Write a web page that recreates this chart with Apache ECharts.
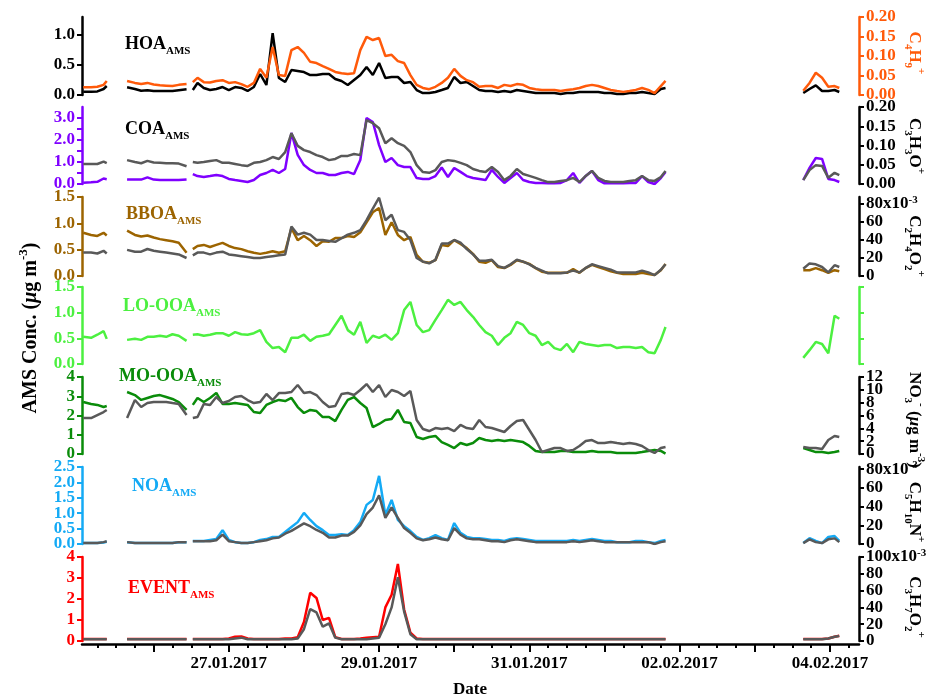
<!DOCTYPE html>
<html>
<head>
<meta charset="utf-8">
<script src="https://cdn.jsdelivr.net/npm/echarts@6/dist/echarts.min.js"></script>
<style>
  html, body { margin: 0; padding: 0; background: #fff; }
  #chart { width: 936px; height: 700px; }
</style>
</head>
<body>
<div id="chart"></div>
<script>
// ---- Time base: hours since 25.01.2017 00:00 (null rows break the line at data gaps) ----
const hours = [
  1.5, 4, 6, 8, 9,
  12,
  15.5, 18, 20, 22, 24, 26, 28, 30, 32, 34.5,
  35.5,
  36.5, 38, 40, 42, 44, 46, 48, 50, 52, 54,
  56, 58, 60, 62, 64, 66, 68, 70, 72, 74,
  76, 78, 80, 82, 84, 86, 88, 90, 92, 94,
  96, 98, 100, 102, 104, 106, 108, 110, 112, 114,
  116, 118, 120, 122, 124, 126, 128, 130, 132, 134,
  136, 138, 140, 142, 144, 146, 148, 150, 152, 154,
  156, 158, 160, 162, 164, 166, 168, 170, 172, 174,
  176, 178, 180, 182, 184, 186, 187.5,
  210,
  231.5, 233.5, 235.5, 237.5, 239.5, 241.5, 243
];

// ---- HOA panel ----
const hoaAms = [
  0.055, 0.055, 0.06, 0.10, 0.15,
  null,
  0.13, 0.10, 0.07, 0.08, 0.065, 0.065, 0.065, 0.065, 0.08, 0.095,
  null,
  0.083, 0.20, 0.117, 0.083, 0.10, 0.133, 0.083, 0.133, 0.117, 0.067,
  0.133, 0.35, 0.167, 1.03, 0.283, 0.217, 0.417, 0.40, 0.383, 0.333,
  0.333, 0.35, 0.35, 0.267, 0.233, 0.167, 0.25, 0.333, 0.467, 0.333,
  0.533, 0.283, 0.30, 0.30, 0.20, 0.217, 0.083, 0.033, 0.033, 0.05,
  0.083, 0.117, 0.30, 0.20, 0.217, 0.15, 0.083, 0.067, 0.067, 0.05,
  0.067, 0.05, 0.083, 0.067, 0.05, 0.033, 0.033, 0.033, 0.033, 0.017,
  0.033, 0.033, 0.05, 0.05, 0.05, 0.05, 0.033, 0.033, 0.017, 0.017,
  0.033, 0.033, 0.05, 0.033, 0.017, 0.10, 0.117,
  null,
  0.033, 0.10, 0.16, 0.067, 0.067, 0.083, 0.05
];
const c4h9 = [
  0.020, 0.020, 0.021, 0.026, 0.036,
  null,
  0.036, 0.031, 0.028, 0.031, 0.027, 0.025, 0.024, 0.023, 0.026, 0.028,
  null,
  0.033, 0.044, 0.033, 0.032, 0.036, 0.038, 0.031, 0.033, 0.028, 0.021,
  0.031, 0.067, 0.044, 0.123, 0.051, 0.049, 0.115, 0.123, 0.108, 0.085,
  0.082, 0.074, 0.067, 0.059, 0.056, 0.054, 0.056, 0.115, 0.149, 0.141,
  0.146, 0.100, 0.103, 0.087, 0.082, 0.051, 0.026, 0.018, 0.015, 0.021,
  0.031, 0.044, 0.067, 0.049, 0.038, 0.033, 0.021, 0.023, 0.023, 0.018,
  0.026, 0.023, 0.028, 0.026, 0.018, 0.015, 0.013, 0.013, 0.013, 0.010,
  0.013, 0.015, 0.018, 0.023, 0.026, 0.023, 0.018, 0.013, 0.010, 0.008,
  0.010, 0.013, 0.018, 0.013, 0.005, 0.023, 0.036,
  null,
  0.011, 0.031, 0.057, 0.044, 0.021, 0.023, 0.018
];

// ---- COA panel ----
const coaAms = [
  0.06, 0.08, 0.10, 0.25, 0.22,
  null,
  0.21, 0.20, 0.20, 0.30, 0.20, 0.18, 0.18, 0.18, 0.18, 0.20,
  null,
  0.45, 0.36, 0.32, 0.36, 0.41, 0.36, 0.23, 0.18, 0.14, 0.09,
  0.18, 0.41, 0.50, 0.64, 0.50, 0.68, 2.32, 1.32, 0.86, 0.64,
  0.50, 0.50, 0.41, 0.41, 0.50, 0.55, 0.45, 1.09, 3.0, 2.82,
  1.77, 1.0, 1.18, 0.86, 0.77, 0.77, 0.27, 0.23, 0.23, 0.36,
  0.75, 0.32, 0.73, 0.55, 0.36, 0.27, 0.23, 0.18, 0.64, 0.32,
  0.05, 0.27, 0.50, 0.18, 0.09, 0.05, 0.05, 0.03, 0.03, 0.05,
  0.18, 0.50, 0.05, 0.36, 0.59, 0.18, 0.03, 0.03, 0.03, 0.03,
  0.05, 0.05, 0.36, 0.09, 0.0, 0.27, 0.55,
  null,
  0.18, 0.73, 1.18, 1.14, 0.23, 0.18, 0.09
];
const c3h3o = [
  0.052, 0.052, 0.052, 0.058, 0.054,
  null,
  0.062, 0.057, 0.054, 0.060, 0.056, 0.055, 0.054, 0.054, 0.053, 0.046,
  null,
  0.057, 0.055, 0.057, 0.060, 0.062, 0.055, 0.055, 0.052, 0.049, 0.047,
  0.055, 0.057, 0.062, 0.070, 0.065, 0.083, 0.132, 0.099, 0.088, 0.083,
  0.075, 0.070, 0.062, 0.065, 0.073, 0.073, 0.078, 0.075, 0.166, 0.158,
  0.145, 0.106, 0.119, 0.106, 0.099, 0.083, 0.049, 0.031, 0.029, 0.036,
  0.057, 0.062, 0.060, 0.055, 0.049, 0.039, 0.034, 0.031, 0.044, 0.031,
  0.010, 0.021, 0.039, 0.026, 0.021, 0.016, 0.010, 0.005, 0.005, 0.008,
  0.010, 0.016, 0.005, 0.021, 0.034, 0.016, 0.008, 0.005, 0.005, 0.005,
  0.008, 0.010, 0.021, 0.010, 0.008, 0.018, 0.034,
  null,
  0.010, 0.036, 0.049, 0.047, 0.016, 0.029, 0.023
];

// ---- BBOA panel ----
const bboaAms = [
  0.82, 0.78, 0.76, 0.82, 0.77,
  null,
  0.86, 0.78, 0.75, 0.77, 0.73, 0.70, 0.68, 0.66, 0.63, 0.44,
  null,
  0.51, 0.57, 0.59, 0.55, 0.59, 0.63, 0.57, 0.53, 0.51, 0.47,
  0.44, 0.42, 0.44, 0.47, 0.44, 0.47, 0.91, 0.68, 0.76, 0.68,
  0.57, 0.66, 0.65, 0.72, 0.72, 0.76, 0.74, 0.83, 1.02, 1.21,
  1.29, 0.78, 1.02, 0.78, 0.68, 0.74, 0.40, 0.27, 0.25, 0.30,
  0.59, 0.57, 0.68, 0.61, 0.53, 0.42, 0.27, 0.25, 0.30, 0.17,
  0.15, 0.21, 0.30, 0.27, 0.23, 0.15, 0.08, 0.06, 0.06, 0.06,
  0.06, 0.13, 0.06, 0.15, 0.21, 0.17, 0.13, 0.09, 0.06, 0.04,
  0.04, 0.04, 0.06, 0.04, 0.02, 0.11, 0.23,
  null,
  0.11, 0.11, 0.15, 0.11, 0.06, 0.11, 0.09
];
const c2h4o2 = [
  0.026, 0.026, 0.025, 0.028, 0.025,
  null,
  0.029, 0.027, 0.027, 0.030, 0.028, 0.027, 0.026, 0.025, 0.024, 0.020,
  null,
  0.023, 0.026, 0.026, 0.024, 0.026, 0.027, 0.024, 0.023, 0.022, 0.021,
  0.020, 0.020, 0.021, 0.022, 0.023, 0.024, 0.055, 0.046, 0.048, 0.046,
  0.040, 0.040, 0.039, 0.038, 0.042, 0.046, 0.048, 0.051, 0.062, 0.075,
  0.087, 0.062, 0.068, 0.051, 0.049, 0.040, 0.020, 0.016, 0.014, 0.018,
  0.036, 0.036, 0.040, 0.037, 0.030, 0.024, 0.017, 0.017, 0.018, 0.011,
  0.009, 0.013, 0.018, 0.016, 0.013, 0.009, 0.006, 0.003, 0.003, 0.003,
  0.004, 0.006, 0.004, 0.009, 0.013, 0.011, 0.009, 0.007, 0.004, 0.004,
  0.004, 0.004, 0.006, 0.004, 0.001, 0.007, 0.013,
  null,
  0.008, 0.014, 0.013, 0.010, 0.004, 0.012, 0.010
];

// ---- LO-OOA panel ----
const loOoaAms = [
  0.53, 0.51, 0.57, 0.64, 0.49,
  null,
  0.47, 0.49, 0.47, 0.53, 0.53, 0.55, 0.53, 0.58, 0.55, 0.45,
  null,
  0.57, 0.58, 0.55, 0.57, 0.60, 0.60, 0.55, 0.62, 0.58, 0.57,
  0.60, 0.66, 0.43, 0.31, 0.33, 0.23, 0.51, 0.51, 0.57, 0.45,
  0.53, 0.55, 0.58, 0.76, 0.94, 0.66, 0.57, 0.82, 0.41, 0.55,
  0.51, 0.57, 0.47, 0.60, 1.05, 1.21, 0.76, 0.62, 0.66, 0.86,
  1.05, 1.25, 1.15, 1.21, 1.05, 0.92, 0.76, 0.62, 0.55, 0.37,
  0.51, 0.60, 0.82, 0.76, 0.60, 0.55, 0.37, 0.43, 0.31, 0.27,
  0.39, 0.23, 0.43, 0.39, 0.37, 0.35, 0.37, 0.37, 0.31, 0.33,
  0.33, 0.31, 0.33, 0.23, 0.21, 0.47, 0.72,
  null,
  0.12, 0.27, 0.43, 0.39, 0.21, 0.94, 0.88
];

// ---- MO-OOA panel ----
const moOoaAms = [
  2.70, 2.60, 2.55, 2.44, 2.49,
  null,
  3.22, 3.06, 2.81, 2.91, 3.01, 3.06, 2.96, 2.86, 2.70, 2.29,
  null,
  2.55, 2.91, 2.70, 2.91, 3.17, 2.60, 2.60, 2.65, 2.60, 2.55,
  2.18, 2.13, 2.55, 2.70, 2.81, 2.75, 2.91, 2.44, 2.13, 2.29,
  2.23, 1.92, 1.92, 1.71, 2.29, 2.81, 2.96, 2.65, 2.39, 1.40,
  1.56, 1.77, 1.82, 2.29, 1.66, 1.61, 0.88, 0.78, 0.88, 0.94,
  0.62, 0.47, 0.31, 0.57, 0.47, 0.57, 0.83, 0.73, 0.68, 0.73,
  0.68, 0.73, 0.68, 0.62, 0.42, 0.16, 0.10, 0.10, 0.10, 0.16,
  0.16, 0.10, 0.10, 0.10, 0.16, 0.10, 0.10, 0.10, 0.05, 0.05,
  0.05, 0.05, 0.10, 0.16, 0.21, 0.16, 0.02,
  null,
  0.31, 0.21, 0.10, 0.10, 0.05, 0.10, 0.16
];
const no3 = [
  5.6, 5.6, 6.07, 6.54, 6.85,
  null,
  5.6, 8.41, 7.32, 7.94, 8.1, 8.1, 8.1, 7.94, 7.79, 6.07,
  null,
  5.61, 5.76, 7.79, 7.63, 8.88, 7.94, 8.26, 8.88, 9.03, 8.41,
  7.94, 8.10, 9.35, 8.41, 9.50, 9.50, 9.66, 10.75, 9.50, 9.66,
  9.19, 8.10, 7.32, 7.48, 9.35, 9.50, 9.19, 9.97, 10.9, 9.66,
  10.75, 8.88, 9.97, 9.66, 9.03, 9.81, 5.30, 3.89, 3.58, 4.05,
  3.89, 4.05, 3.58, 4.52, 4.05, 3.89, 5.30, 4.21, 4.05, 3.74,
  3.43, 4.36, 5.14, 5.30, 3.74, 2.18, 0.31, 0.62, 0.93, 0.93,
  0.47, 0.62, 1.25, 2.02, 2.18, 1.71, 1.71, 1.87, 1.71, 1.56,
  1.71, 1.56, 1.25, 0.62, 0.16, 0.93, 1.09,
  null,
  1.09, 0.93, 0.93, 0.78, 2.18, 2.80, 2.65
];

// ---- NOA panel ----
const noaAms = [
  0.03, 0.03, 0.03, 0.05, 0.07,
  null,
  0.06, 0.03, 0.03, 0.03, 0.03, 0.03, 0.03, 0.03, 0.06, 0.06,
  null,
  0.10, 0.10, 0.10, 0.13, 0.16, 0.45, 0.13, 0.06, 0.03, 0.03,
  0.06, 0.13, 0.16, 0.23, 0.23, 0.39, 0.55, 0.71, 1.01, 0.78,
  0.58, 0.45, 0.29, 0.29, 0.32, 0.29, 0.45, 0.71, 1.27, 1.43,
  2.21, 0.94, 1.43, 0.78, 0.58, 0.42, 0.23, 0.13, 0.19, 0.29,
  0.19, 0.13, 0.68, 0.36, 0.23, 0.19, 0.19, 0.16, 0.13, 0.13,
  0.10, 0.16, 0.19, 0.16, 0.13, 0.10, 0.10, 0.10, 0.10, 0.10,
  0.10, 0.13, 0.10, 0.13, 0.16, 0.13, 0.10, 0.10, 0.06, 0.06,
  0.06, 0.10, 0.10, 0.06, 0.03, 0.10, 0.13,
  null,
  0.03, 0.19, 0.10, 0.03, 0.23, 0.26, 0.10
];
const c5h10n = [
  0.001, 0.001, 0.001, 0.002, 0.003,
  null,
  0.002, 0.001, 0.001, 0.001, 0.001, 0.001, 0.001, 0.001, 0.002, 0.002,
  null,
  0.003, 0.003, 0.003, 0.003, 0.004, 0.010, 0.003, 0.002, 0.001, 0.001,
  0.002, 0.003, 0.004, 0.006, 0.007, 0.011, 0.014, 0.018, 0.022, 0.019,
  0.015, 0.012, 0.007, 0.007, 0.009, 0.009, 0.013, 0.020, 0.032, 0.039,
  0.052, 0.028, 0.039, 0.028, 0.017, 0.012, 0.006, 0.004, 0.005, 0.007,
  0.005, 0.004, 0.017, 0.010, 0.006, 0.005, 0.005, 0.004, 0.003, 0.003,
  0.002, 0.004, 0.005, 0.004, 0.003, 0.002, 0.002, 0.002, 0.002, 0.002,
  0.002, 0.003, 0.002, 0.003, 0.004, 0.003, 0.002, 0.002, 0.002, 0.002,
  0.002, 0.002, 0.002, 0.002, 0.000, 0.002, 0.003,
  null,
  0.001, 0.005, 0.002, 0.001, 0.005, 0.006, 0.002
];

// ---- EVENT panel ----
const eventAms = [
  0.10, 0.10, 0.10, 0.10, 0.10,
  null,
  0.10, 0.10, 0.10, 0.10, 0.10, 0.10, 0.10, 0.10, 0.10, 0.10,
  null,
  0.10, 0.10, 0.10, 0.10, 0.10, 0.10, 0.12, 0.20, 0.22, 0.12,
  0.10, 0.10, 0.10, 0.10, 0.10, 0.12, 0.12, 0.18, 0.90, 2.30,
  2.05, 1.00, 1.10, 0.18, 0.10, 0.10, 0.10, 0.12, 0.15, 0.18,
  0.20, 1.60, 2.20, 3.67, 1.50, 0.40, 0.12, 0.10, 0.10, 0.10,
  0.10, 0.10, 0.10, 0.10, 0.10, 0.10, 0.10, 0.10, 0.10, 0.10,
  0.10, 0.10, 0.10, 0.10, 0.10, 0.10, 0.10, 0.10, 0.10, 0.10,
  0.10, 0.10, 0.10, 0.10, 0.10, 0.10, 0.10, 0.10, 0.10, 0.10,
  0.10, 0.10, 0.10, 0.10, 0.10, 0.10, 0.10,
  null,
  0.10, 0.10, 0.10, 0.10, 0.12, 0.20, 0.25
];
const c3h7o2 = [
  0.002, 0.002, 0.002, 0.002, 0.002,
  null,
  0.002, 0.002, 0.002, 0.002, 0.002, 0.002, 0.002, 0.002, 0.002, 0.002,
  null,
  0.002, 0.002, 0.002, 0.002, 0.002, 0.002, 0.002, 0.003, 0.004, 0.002,
  0.002, 0.002, 0.002, 0.002, 0.002, 0.002, 0.002, 0.003, 0.014, 0.038,
  0.034, 0.017, 0.021, 0.004, 0.002, 0.002, 0.002, 0.002, 0.002, 0.003,
  0.004, 0.020, 0.040, 0.076, 0.035, 0.008, 0.002, 0.002, 0.002, 0.002,
  0.002, 0.002, 0.002, 0.002, 0.002, 0.002, 0.002, 0.002, 0.002, 0.002,
  0.002, 0.002, 0.002, 0.002, 0.002, 0.002, 0.002, 0.002, 0.002, 0.002,
  0.002, 0.002, 0.002, 0.002, 0.002, 0.002, 0.002, 0.002, 0.002, 0.002,
  0.002, 0.002, 0.002, 0.002, 0.002, 0.002, 0.002,
  null,
  0.002, 0.002, 0.002, 0.002, 0.003, 0.005, 0.006
];

// ---- Tick positions ----
const dayTicks = [24, 48, 72, 96, 120, 144, 168, 192, 216, 240];
const sixHourTicks = [6, 12, 18, 24, 30, 36, 42, 48, 54, 60, 66, 72, 78, 84, 90, 96, 102, 108, 114, 120,
  126, 132, 138, 144, 150, 156, 162, 168, 174, 180, 186, 192, 198, 204, 210, 216, 222, 228, 234, 240, 246];
const dateLabelTicks = [48, 96, 144, 192, 240];

const hoaTicks = [0, 0.5, 1.0];
const c4h9Ticks = [0, 0.05, 0.10, 0.15, 0.20];
const coaTicks = [0, 0.5, 1, 1.5, 2, 2.5, 3];
const coaLabels = [0, 1, 2, 3];
const c3h3oTicks = [0, 0.05, 0.10, 0.15, 0.20];
const halfStepTicks = [0, 0.5, 1.0, 1.5];
const c2h4o2Ticks = [0, 0.02, 0.04, 0.06, 0.08];
const moOoaTicks = [0, 1, 2, 3, 4];
const no3Ticks = [0, 2, 4, 6, 8, 10, 12];
const noaTicks = [0, 0.5, 1.0, 1.5, 2.0, 2.5];
const c5h10nTicks = [0, 0.02, 0.04, 0.06, 0.08];
const eventTicks = [0, 1, 2, 3, 4];
const c3h7o2Ticks = [0, 0.02, 0.04, 0.06, 0.08, 0.10];

// ---- Styling ----
const FONT = '"Liberation Serif", "Times New Roman", Times, serif';
const BLACK = '#000000';
const GRAY = '#595959';
const ORANGE = '#ff5a0a';
const PURPLE = '#7f00ff';
const BROWN = '#9c6400';
const LIGHTGREEN = '#4cf040';
const GREEN = '#0a8c0a';
const BLUE = '#14aaf5';
const RED = '#ff0000';

const X_MIN = 1.1, X_MAX = 249.3;
const GRID_LEFT = 82, GRID_WIDTH = 777;
const TICK_FONT = 17;

const fmt1 = v => v.toFixed(1);
const fmt0 = v => String(Math.round(v));
const fmt2 = v => v.toFixed(2);
const milliFmt = topVal => v => {
  const n = Math.round(v * 1000);
  return n === topVal ? '{v|' + n + 'x10}{e|-3}' : String(n);
};

const panels = [
  { top: 17, height: 78,
    left:  { color: BLACK, max: 1.3, ticks: hoaTicks, labels: hoaTicks, fmt: fmt1 },
    right: { color: ORANGE, max: 0.20, ticks: c4h9Ticks, labels: c4h9Ticks, fmt: fmt2 } },
  { top: 107, height: 77,
    left:  { color: PURPLE, max: 3.5, ticks: coaTicks, labels: coaLabels, fmt: fmt1 },
    right: { color: BLACK, max: 0.20, ticks: c3h3oTicks, labels: c3h3oTicks, fmt: fmt2 } },
  { top: 197, height: 79,
    left:  { color: BROWN, max: 1.5, ticks: halfStepTicks, labels: halfStepTicks, fmt: fmt1 },
    right: { color: BLACK, max: 0.0878, ticks: c2h4o2Ticks, labels: c2h4o2Ticks, fmt: milliFmt(80) } },
  { top: 287, height: 77,
    left:  { color: LIGHTGREEN, max: 1.5, ticks: halfStepTicks, labels: halfStepTicks, fmt: fmt1 },
    right: { color: LIGHTGREEN, max: 1.5, ticks: halfStepTicks, labels: [], fmt: fmt1 } },
  { top: 377, height: 77,
    left:  { color: GREEN, max: 4, ticks: moOoaTicks, labels: moOoaTicks, fmt: fmt0 },
    right: { color: BLACK, max: 12, ticks: no3Ticks, labels: no3Ticks, fmt: fmt0 } },
  { top: 467, height: 77,
    left:  { color: BLUE, max: 2.5, ticks: noaTicks, labels: noaTicks, fmt: fmt1 },
    right: { color: BLACK, max: 0.0823, ticks: c5h10nTicks, labels: c5h10nTicks, fmt: milliFmt(80) } },
  { top: 557, height: 84,
    left:  { color: RED, max: 4, ticks: eventTicks, labels: eventTicks, fmt: fmt0 },
    right: { color: BLACK, max: 0.10, ticks: c3h7o2Ticks, labels: c3h7o2Ticks, fmt: milliFmt(100) } }
];

// series: [panel, side, values, colour]; coloured factor first, gray marker ion drawn over it
const seriesList = [
  [0, 'left', hoaAms, BLACK], [0, 'right', c4h9, ORANGE],
  [1, 'left', coaAms, PURPLE], [1, 'right', c3h3o, GRAY],
  [2, 'left', bboaAms, BROWN], [2, 'right', c2h4o2, GRAY],
  [3, 'left', loOoaAms, LIGHTGREEN],
  [4, 'left', moOoaAms, GREEN], [4, 'right', no3, GRAY],
  [5, 'left', noaAms, BLUE], [5, 'right', c5h10n, GRAY],
  [6, 'left', eventAms, RED], [6, 'right', c3h7o2, GRAY]
];

function labelStyle(cfg, values) {
  return {
    show: values.length > 0, customValues: values, formatter: cfg.fmt,
    showMinLabel: true, showMaxLabel: true,
    color: cfg.color, fontFamily: FONT, fontWeight: 'bold', fontSize: TICK_FONT, margin: 7,
    rich: {
      v: { color: cfg.color, fontFamily: FONT, fontWeight: 'bold', fontSize: TICK_FONT, lineHeight: 18 },
      e: { color: cfg.color, fontFamily: FONT, fontWeight: 'bold', fontSize: 11, verticalAlign: 'top', lineHeight: 11 }
    }
  };
}
// Main axis: line, ticks and every other label
function yAxisFor(i, pos, cfg) {
  return {
    type: 'value', gridIndex: i, position: pos, min: 0, max: cfg.max,
    axisLine: { show: true, lineStyle: { color: cfg.color, width: 2.5 } },
    axisTick: { show: true, length: 5, lineStyle: { color: cfg.color, width: 2 }, customValues: cfg.ticks },
    axisLabel: labelStyle(cfg, cfg.labels.filter((_, k) => k % 2 === 0)),
    splitLine: { show: false }
  };
}
// Companion axis on the same edge carrying the remaining labels, so densely packed labels are never dropped
function yAxisCompanion(i, pos, cfg) {
  return {
    type: 'value', gridIndex: i, position: pos, min: 0, max: cfg.max,
    axisLine: { show: false }, axisTick: { show: false },
    axisLabel: labelStyle(cfg, cfg.labels.filter((_, k) => k % 2 === 1)),
    splitLine: { show: false }
  };
}

function dateLabel(h) {
  const d = new Date(Date.UTC(2017, 0, 25) + h * 3600000);
  const p = n => (n < 10 ? '0' : '') + n;
  return p(d.getUTCDate()) + '.' + p(d.getUTCMonth() + 1) + '.' + d.getUTCFullYear();
}

const xAxes = panels.map((p, i) => ({
  type: 'value', gridIndex: i, min: X_MIN, max: X_MAX, show: i === 6,
  position: 'bottom', offset: 3,
  axisLine: { show: true, onZero: false, lineStyle: { color: BLACK, width: 2.5 } },
  axisTick: { show: true, length: 8, lineStyle: { color: BLACK, width: 2 }, customValues: dayTicks },
  axisLabel: {
    customValues: dateLabelTicks, formatter: dateLabel, color: BLACK,
    showMinLabel: true, showMaxLabel: true,
    fontFamily: FONT, fontWeight: 'bold', fontSize: 17, margin: 11
  },
  splitLine: { show: false }
}));
// six-hour ticks on the bottom axis
xAxes.push({
  type: 'value', gridIndex: 6, min: X_MIN, max: X_MAX, position: 'bottom', offset: 3,
  axisLine: { show: false, onZero: false },
  axisTick: { show: true, length: 4, lineStyle: { color: BLACK, width: 2 }, customValues: sixHourTicks },
  axisLabel: { show: false },
  splitLine: { show: false }
});

function rt(color, size, subSize) {
  const sm = subSize || Math.round(size * 0.64);
  const base = { fontFamily: FONT, fontWeight: 'bold', fill: color };
  return {
    m: Object.assign({ fontSize: size, lineHeight: size + 7 }, base),
    i: Object.assign({ fontSize: size, lineHeight: size + 7, fontStyle: 'italic' }, base),
    b: Object.assign({ fontSize: sm, lineHeight: sm + 1, verticalAlign: 'bottom' }, base),
    t: Object.assign({ fontSize: sm, lineHeight: sm + 1, verticalAlign: 'top' }, base)
  };
}
function label(x, y, text, color, size, rotation, align, subSize) {
  return {
    type: 'text', x, y, rotation: rotation || 0, silent: true, z: 100,
    style: { text, align: align || 'left', verticalAlign: 'middle', rich: rt(color, size, subSize) }
  };
}

const R = -Math.PI / 2;
const graphics = [
  label(125, 44, '{m|HOA}{b|AMS}', BLACK, 18, 0, 'left', 11),
  label(125, 129, '{m|COA}{b|AMS}', BLACK, 18, 0, 'left', 11),
  label(126, 214, '{m|BBOA}{b|AMS}', BROWN, 18, 0, 'left', 11),
  label(123, 306, '{m|LO-OOA}{b|AMS}', LIGHTGREEN, 18, 0, 'left', 11),
  label(119, 376, '{m|MO-OOA}{b|AMS}', GREEN, 18, 0, 'left', 11),
  label(132, 486, '{m|NOA}{b|AMS}', BLUE, 18, 0, 'left', 11),
  label(128, 588, '{m|EVENT}{b|AMS}', RED, 18, 0, 'left', 11),
  label(914, 53, '{m|C}{b|4}{m|H}{b|9}{t|+}', ORANGE, 17, R, 'center'),
  label(914, 146, '{m|C}{b|3}{m|H}{b|3}{m|O}{t|+}', BLACK, 17, R, 'center'),
  label(914, 246, '{m|C}{b|2}{m|H}{b|4}{m|O}{b|2}{t|+}', BLACK, 17, R, 'center'),
  label(914, 420, '{m|NO}{b|3}{t|-}{m| (}{i|μ}{m|g m}{t|-3}{m|)}', BLACK, 17, R, 'center'),
  label(914, 512, '{m|C}{b|5}{m|H}{b|10}{m|N}{t|+}', BLACK, 17, R, 'center'),
  label(914, 607, '{m|C}{b|3}{m|H}{b|7}{m|O}{b|2}{t|+}', BLACK, 17, R, 'center'),
  label(31, 328, '{m|AMS Conc. (}{i|μ}{m|g m}{t|-3}{m|)}', BLACK, 20, Math.PI / 2, 'center'),
  label(470, 690, '{m|Date}', BLACK, 17, 0, 'center')
];

// y axes per panel: [left, right, left companion, right companion]
const yAxes = panels.flatMap((p, i) => [
  yAxisFor(i, 'left', p.left), yAxisFor(i, 'right', p.right),
  yAxisCompanion(i, 'left', p.left), yAxisCompanion(i, 'right', p.right)
]);

const option = {
  animation: false,
  backgroundColor: '#ffffff',
  grid: panels.map(p => ({ left: GRID_LEFT, width: GRID_WIDTH, top: p.top, height: p.height })),
  xAxis: xAxes,
  yAxis: yAxes,
  series: seriesList.map(([pi, side, vals, color], k) => ({
    type: 'line', xAxisIndex: pi, yAxisIndex: pi * 4 + (side === 'right' ? 1 : 0),
    data: hours.map((h, j) => [h, vals[j]]),
    symbol: 'none', showSymbol: false, connectNulls: false, silent: true,
    lineStyle: { color, width: 2.5 }, itemStyle: { color },
    z: 2 + k
  })),
  graphic: graphics
};

const chart = echarts.init(document.getElementById('chart'), null, { renderer: 'canvas' });
chart.setOption(option);
</script>
</body>
</html>
